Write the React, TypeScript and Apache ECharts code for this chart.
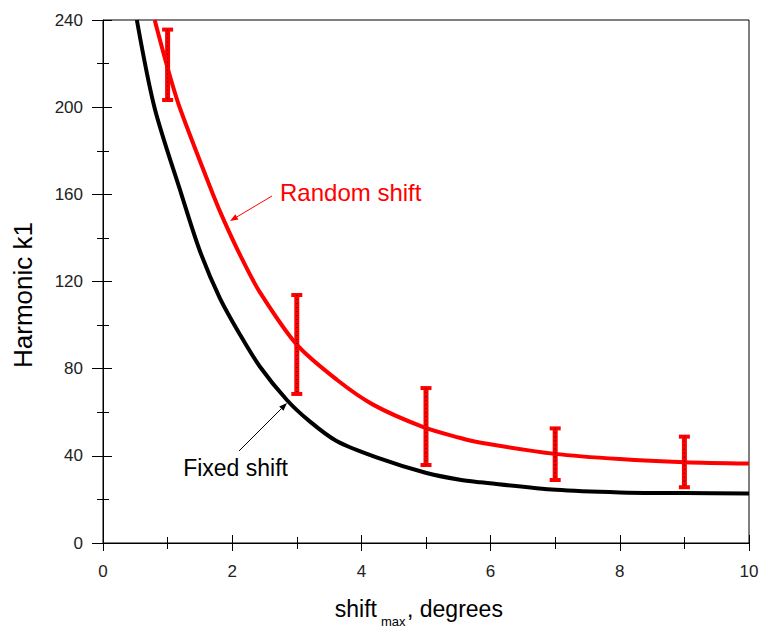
import React, { useEffect, useRef } from "react";
import * as echarts from "echarts";

// Fixed shift curve (black)
const fixedX = [0.524, 0.8, 1.214, 1.5, 1.807, 2.117, 2.427, 2.85, 3.2, 3.615, 4.234, 5.008, 5.524, 5.834, 7.011, 8, 9, 10];
const fixedY = [240, 199.5, 160, 134, 112.5, 95.8, 81, 65.5, 55.8, 46.8, 39.3, 32.1, 29, 27.9, 24.4, 23.2, 22.9, 22.7];

// Random shift curve (red)
const randomX = [0.8, 1.0, 1.19, 1.7, 1.88, 2.15, 2.43, 3.0, 3.62, 4.18, 4.95, 5.52, 5.83, 7, 8, 9, 10];
const randomY = [240, 218, 199.6, 160.2, 147.5, 130.5, 115, 91, 74.9, 63.5, 53.3, 48.3, 46.1, 40.9, 38.5, 37.1, 36.5];

// Error bars on random shift
const errX = [1, 3, 5, 7, 9];
const errLow = [203.3, 68.4, 35.8, 28.9, 25.6];
const errHigh = [235.6, 113.8, 71.1, 52.6, 48.8];

const xTicks = { min: 0, max: 10, interval: 2 };
const yTicks = { min: 0, max: 240, interval: 40 };

const FONT = "Liberation Sans";

function arrow(tail: number[], tip: number[], color: string) {
  const dx = tip[0] - tail[0];
  const dy = tip[1] - tail[1];
  const len = Math.sqrt(dx * dx + dy * dy);
  const ux = dx / len;
  const uy = dy / len;
  const hl = 8;
  const hw = 3;
  const bx = tip[0] - ux * hl;
  const by = tip[1] - uy * hl;
  const px = -uy * hw;
  const py = ux * hw;
  return [
    {
      type: "line",
      shape: { x1: tail[0], y1: tail[1], x2: bx, y2: by },
      style: { stroke: color, lineWidth: 1 },
      silent: true,
    },
    {
      type: "polygon",
      shape: { points: [[tip[0], tip[1]], [bx + px, by + py], [bx - px, by - py]] },
      style: { fill: color },
      silent: true,
    },
  ];
}

export default function App() {
  const ref = useRef<HTMLDivElement>(null);
  useEffect(() => {
    if (!ref.current) return;
    const chart = echarts.init(ref.current, undefined, { renderer: "svg" });

    const axisX = (inside: boolean, show: boolean) => ({
      type: "value",
      position: "bottom",
      offset: 0,
      min: xTicks.min,
      max: xTicks.max,
      interval: xTicks.interval,
      axisLine: { show, lineStyle: { color: "#000", width: 1 } },
      axisTick: { show: true, inside, length: 8, lineStyle: { color: "#000", width: 1 } },
      minorTick: { show: true, splitNumber: 2, length: 6, lineStyle: { color: "#000", width: 1 } },
      splitLine: { show: false },
      axisLabel: {
        show,
        margin: 20,
        color: "#222",
        fontSize: 17,
        fontFamily: FONT,
      },
    });
    const axisY = (inside: boolean, show: boolean) => ({
      type: "value",
      position: "left",
      offset: 0,
      min: yTicks.min,
      max: yTicks.max,
      interval: yTicks.interval,
      axisLine: { show, lineStyle: { color: "#000", width: 1 } },
      axisTick: { show: true, inside, length: inside ? 9 : 11, lineStyle: { color: "#000", width: 1 } },
      minorTick: { show: true, splitNumber: 2, length: 6, lineStyle: { color: "#000", width: 1 } },
      splitLine: { show: false },
      axisLabel: {
        show,
        margin: 20,
        color: "#222",
        fontSize: 17,
        fontFamily: FONT,
      },
    });

    const option: any = {
      animation: false,
      backgroundColor: "#fff",
      grid: {
        left: 103,
        right: 14,
        top: 20,
        bottom: 85,
        show: true,
        borderColor: "#000",
        borderWidth: 1,
        backgroundColor: "transparent",
      },
      xAxis: [axisX(false, true), axisX(true, false)],
      yAxis: [axisY(false, true), axisY(true, false)],
      series: [
        {
          type: "line",
          name: "Fixed shift",
          data: fixedX.map((x, i) => [x, fixedY[i]]),
          smooth: 0.3,
          showSymbol: false,
          lineStyle: { color: "#000", width: 4 },
          z: 3,
        },
        {
          type: "line",
          name: "Random shift",
          data: randomX.map((x, i) => [x, randomY[i]]),
          smooth: 0.3,
          showSymbol: false,
          lineStyle: { color: "#ff0000", width: 4 },
          z: 4,
        },
        {
          type: "custom",
          name: "Error",
          data: errX.map((x, i) => [x, errLow[i], errHigh[i]]),
          z: 5,
          renderItem: (params: any, api: any) => {
            const x = api.value(0);
            const lo = api.coord([x, api.value(1)]);
            const hi = api.coord([x, api.value(2)]);
            const cx = lo[0];
            const barW = 5;
            const capW = 11;
            const capH = 4;
            return {
              type: "group",
              children: [
                {
                  type: "rect",
                  shape: { x: cx - barW / 2, y: hi[1], width: barW, height: lo[1] - hi[1] },
                  style: { fill: "#ff0000" },
                },
                {
                  type: "rect",
                  shape: { x: cx - capW / 2, y: hi[1] - capH / 2, width: capW, height: capH },
                  style: { fill: "#ff0000" },
                },
                {
                  type: "rect",
                  shape: { x: cx - capW / 2, y: lo[1] - capH / 2, width: capW, height: capH },
                  style: { fill: "#ff0000" },
                },
                {
                  type: "line",
                  shape: { x1: cx, y1: hi[1], x2: cx, y2: lo[1] },
                  style: { stroke: "#000", lineWidth: 1, lineDash: [1, 3] },
                },
              ],
            };
          },
        },
      ],
      graphic: [
        {
          type: "text",
          x: 280,
          y: 192.7,
          style: {
            text: "Random shift",
            fill: "#ff0000",
            font: `24px "${FONT}"`,
            align: "left",
            verticalAlign: "middle",
          },
        },
        ...arrow([272, 196], [230, 221], "#ff0000"),
        {
          type: "text",
          x: 288,
          y: 468,
          style: {
            text: "Fixed shift",
            fill: "#000",
            font: `23px "${FONT}"`,
            align: "right",
            verticalAlign: "middle",
          },
        },
        ...arrow([239, 451], [287, 403], "#000"),
        {
          type: "text",
          x: 23,
          y: 295,
          rotation: Math.PI / 2,
          style: {
            text: "Harmonic k1",
            fill: "#000",
            font: `26px "${FONT}"`,
            align: "center",
            verticalAlign: "middle",
          },
        },
        {
          type: "text",
          x: 377,
          y: 609,
          style: {
            text: "shift",
            fill: "#000",
            font: `23px "${FONT}"`,
            align: "right",
            verticalAlign: "middle",
          },
        },
        {
          type: "text",
          x: 381,
          y: 621.5,
          style: {
            text: "max",
            fill: "#000",
            font: `13px "${FONT}"`,
            align: "left",
            verticalAlign: "middle",
          },
        },
        {
          type: "text",
          x: 407,
          y: 609,
          style: {
            text: ", degrees",
            fill: "#000",
            font: `23px "${FONT}"`,
            align: "left",
            verticalAlign: "middle",
          },
        },
      ],
    };
    chart.setOption(option);
    return () => chart.dispose();
  }, []);

  return (
    <div
      ref={ref}
      style={{ position: "fixed", left: 0, top: 0, width: 763, height: 628, background: "#fff" }}
    />
  );
}
